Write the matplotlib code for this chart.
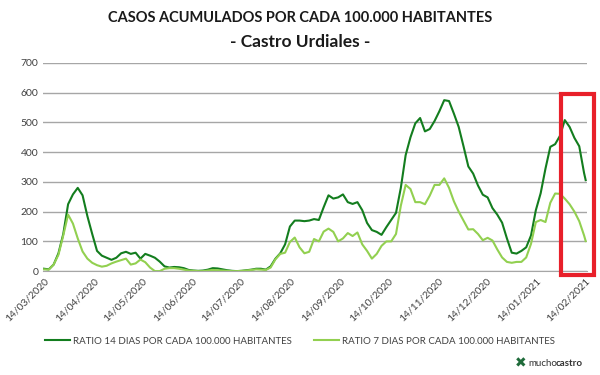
import matplotlib
matplotlib.use("Agg")
import matplotlib.pyplot as plt
import matplotlib.dates as mdates
import matplotlib.patches as patches
import pandas as pd

plt.rcParams["font.family"] = ["Lato", "DejaVu Sans"]

# days counted from 14/03/2020
start = pd.Timestamp("2020-03-14")
days = [0, 3, 6, 9, 12, 15, 18, 21, 24, 27, 30, 33, 36, 39, 42, 45, 48, 51, 54, 57,
        60, 63, 66, 69, 72, 75, 78, 81, 84, 87, 90, 93, 96, 99, 102, 105, 108, 111,
        114, 117, 120, 123, 126, 129, 132, 135, 138, 141, 144, 147, 150, 153, 156,
        159, 162, 165, 168, 171, 174, 177, 180, 183, 186, 189, 192, 195, 198, 201,
        204, 207, 210, 213, 216, 219, 222, 225, 228, 231, 234, 237, 240, 243, 246,
        249, 252, 255, 258, 261, 264, 267, 270, 273, 276, 279, 282, 285, 288, 291,
        294, 297, 300, 303, 306, 309, 312, 315, 318, 321, 324, 327, 330, 333, 336, 337]

ratio14 = [8, 6, 22, 60, 125, 225, 258, 280, 255, 185, 125, 68, 52, 45, 38, 45, 60, 65,
           58, 62, 42, 58, 52, 45, 32, 16, 12, 14, 13, 10, 4, 2, 1, 2, 5, 10, 9, 6, 3,
           1, 0, 1, 3, 5, 8, 8, 5, 16, 42, 60, 90, 150, 170, 170, 168, 170, 175, 172,
           215, 255, 244, 248, 258, 232, 226, 232, 205, 162, 138, 132, 122, 148, 172,
           196, 280, 390, 450, 497, 515, 470, 478, 505, 538, 575, 572, 530, 485, 420,
           352, 328, 288, 257, 248, 212, 190, 163, 110, 62, 59, 68, 80, 120, 205, 262,
           345, 418, 427, 455, 508, 485, 448, 420, 330, 306]

ratio7 = [6, 5, 22, 55, 120, 190, 160, 110, 66, 42, 28, 20, 15, 18, 26, 32, 37, 42,
          22, 26, 39, 30, 12, 0, 0, 8, 10, 10, 8, 5, 2, 1, 0, 0, 2, 4, 3, 2, 1, 0,
          0, 1, 2, 4, 6, 5, 4, 12, 40, 58, 62, 98, 113, 80, 60, 65, 108, 100, 133,
          143, 132, 100, 110, 128, 118, 130, 90, 68, 42, 58, 85, 100, 100, 125, 220,
          290, 276, 232, 232, 225, 254, 290, 290, 312, 280, 235, 200, 170, 140, 141,
          125, 104, 112, 103, 73, 46, 31, 28, 31, 31, 46, 92, 165, 172, 165, 230,
          261, 260, 244, 225, 200, 168, 120, 101]

label14 = "RATIO 14 DIAS POR CADA 100.000 HABITANTES"
label7 = "RATIO 7 DIAS POR CADA 100.000 HABITANTES"

dates = [start + pd.Timedelta(days=d) for d in days]

fig = plt.figure(figsize=(6, 3.75), dpi=100)
ax = fig.add_axes([0.0717, 0.277, 0.9063, 0.555])

ax.plot(dates, ratio14, color="#137d1e", linewidth=1.5, label=label14)
ax.plot(dates, ratio7, color="#92d050", linewidth=1.5, label=label7)

ax.set_ylim(0, 700)
ax.set_yticks(range(0, 701, 100))
ax.set_xlim(start - pd.Timedelta(days=0.6), start + pd.Timedelta(days=337.7))
ax.xaxis.set_major_locator(mdates.MonthLocator(bymonthday=14))
ax.xaxis.set_major_formatter(mdates.DateFormatter("%d/%m/%Y"))
for lab in ax.get_xticklabels():
    lab.set_rotation(45)
    lab.set_ha("right")
    lab.set_rotation_mode("anchor")
ax.tick_params(axis="both", length=0, labelsize=7.5, colors="#404040")
ax.tick_params(axis="x", pad=4)
ax.grid(axis="y", color="#a6a6a6", linewidth=1)
ax.set_axisbelow(True)
for s in ["top", "right", "left"]:
    ax.spines[s].set_visible(False)
ax.spines["bottom"].set_color("#a6a6a6")

fig.text(0.5, 0.953, "CASOS ACUMULADOS POR CADA 100.000 HABITANTES",
         ha="center", va="center", fontsize=10.5, fontweight="bold", color="#1a1a1a")
fig.text(0.5, 0.887, "- Castro Urdiales -", ha="center", va="center",
         fontsize=12.5, fontweight="bold", color="#1a1a1a")

fig.legend(loc="center", bbox_to_anchor=(0.5, 0.09), ncol=2, frameon=False,
           fontsize=7, handlelength=2.6, handletextpad=0.3, columnspacing=2.2,
           labelcolor="#404040")

# highlight box around the last weeks
fig.add_artist(patches.Rectangle((0.935, 0.268), 0.055, 0.482, transform=fig.transFigure,
                                 fill=False, edgecolor="#e8202a", linewidth=3))

fig.text(0.878, 0.032, "✖", ha="right", va="center", fontsize=10, color="#1f6b3a",
         family=["DejaVu Sans"])
fig.text(0.881, 0.032, "mucho", ha="left", va="center", fontsize=7, color="#333333")
fig.text(0.926, 0.032, "castro", ha="left", va="center", fontsize=7,
         fontweight="bold", color="#333333")

fig.savefig("out.png", dpi=100)
